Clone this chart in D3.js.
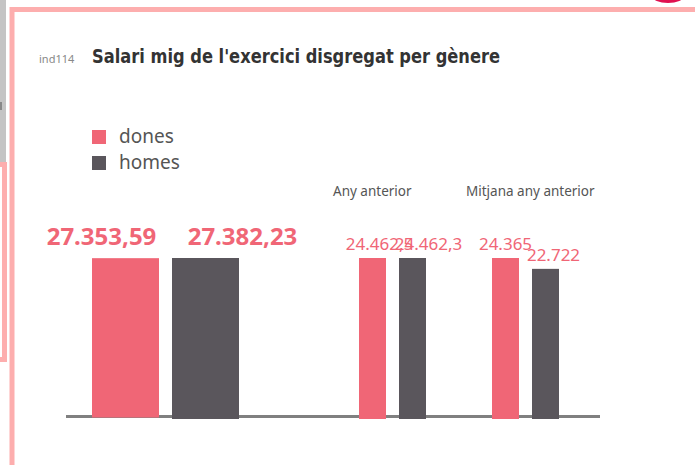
<!DOCTYPE html>
<html>
<head>
<meta charset="utf-8">
<script src="https://cdn.jsdelivr.net/npm/d3@7"></script>
<style>
	html, body { margin: 0; padding: 0; background: #fff; }
	svg { display: block; }
</style>
</head>
<body>
<div id="chart"></div>
<script>
/* Salari mig per gènere - ind114 */

var groups = ["actual", "Any anterior", "Mitjana any anterior"];
var series = ["dones", "homes"];
var dones = [27353.59, 24462.5, 24365];
var homes = [27382.23, 24462.3, 22722];

var width = 695,
	height = 465;

var pink = "#f06676",
	dark = "#5a565c",
	frame = "#fdaeae";

var locale = d3.formatLocale({ decimal: ",", thousands: ".", grouping: [3], currency: ["", "€"] });
var fmt = locale.format(",.2~f");

var svg = d3.select("#chart").append("svg")
	.attr("width", width)
	.attr("height", height);

/* page decorations round the widget */
svg.append("rect").attr("x", 0).attr("y", 0).attr("width", 6).attr("height", 162).style("fill", "#c4c4c4");
svg.append("rect").attr("x", 0).attr("y", 102).attr("width", 2).attr("height", 8).style("fill", "#888");
svg.append("path")
	.attr("d", "M0,164.5 H4.5 V359.5 H0")
	.style("fill", "none").style("stroke", frame).style("stroke-width", 5);
svg.append("path")
	.attr("d", "M12,465 V9.5 H695")
	.style("fill", "none").style("stroke", frame).style("stroke-width", 5);
svg.append("ellipse").attr("cx", 668).attr("cy", -4).attr("rx", 16).attr("ry", 7).style("fill", "#e0104f");

/* title */
svg.append("text")
	.attr("x", 39).attr("y", 63)
	.style("font-family", "'Noto Sans', sans-serif")
	.style("font-size", "11px")
	.style("fill", "#888")
	.text("ind114");
svg.append("text")
	.attr("x", 92).attr("y", 63)
	.attr("textLength", 408)
	.attr("lengthAdjust", "spacingAndGlyphs")
	.style("font-family", "'DejaVu Sans Condensed', 'DejaVu Sans', sans-serif")
	.style("font-weight", "bold")
	.style("font-size", "20px")
	.style("fill", "#333")
	.text("Salari mig de l'exercici disgregat per gènere");

/* legend */
var legend = svg.append("g").attr("class", "legend");
var li = legend.selectAll("g").data(series).enter().append("g")
	.attr("transform", function(d, i) { return "translate(92," + (130 + i * 26) + ")"; });
li.append("rect")
	.attr("width", 14).attr("height", 14)
	.style("fill", function(d, i) { return i == 0 ? pink : dark; });
li.append("text")
	.attr("x", 27).attr("y", 13)
	.style("font-family", "'Noto Sans', sans-serif")
	.style("font-size", "19px")
	.style("fill", "#555")
	.text(function(d) { return d; });

/* layout of the three groups: x0, bar width, gap, label offsets */
var layout = [
	{ x0: 92, bw: 67, gap: 13, big: true, dx: [-24, 37] },
	{ x0: 359, bw: 27, gap: 13, big: false, dx: [7, 16] },
	{ x0: 492, bw: 27, gap: 13, big: false, dx: [0, 8] }
];

var baseline = 419,
	maxH = 161;

var axisY = 416.5;
svg.append("line")
	.attr("x1", 66).attr("x2", 600)
	.attr("y1", axisY).attr("y2", axisY)
	.style("stroke", "#808080").style("stroke-width", 3);

var data = groups.map(function(g, i) {
	return { group: g, values: [dones[i], homes[i]], lay: layout[i] };
});

var gg = svg.selectAll("g.group").data(data).enter().append("g").attr("class", "group");

gg.each(function(d, gi) {
	var g = d3.select(this);
	var L = d.lay;
	var span = 2 * L.bw + L.gap;
	var x = d3.scaleBand().domain(series)
		.range([L.x0, L.x0 + span])
		.paddingInner(L.gap / (L.bw + L.gap))
		.paddingOuter(0);
	// each group is scaled to its own maximum
	var y = d3.scaleLinear().domain([0, d3.max(d.values)]).range([baseline, baseline - maxH]);

	if (gi > 0) {
		g.append("text")
			.attr("x", L.x0 - 26).attr("y", 196)
			.style("font-family", "'Noto Sans', sans-serif")
			.style("font-size", "13.5px")
			.style("fill", "#555")
			.text(d.group);
	}

	g.selectAll("rect").data(d.values).enter().append("rect")
		.attr("x", function(v, i) { return x(series[i]); })
		.attr("width", x.bandwidth())
		.attr("y", function(v) { return y(v); })
		.attr("height", function(v, i) { return (gi == 0 && i == 0 ? baseline - 1.5 : baseline) - y(v); })
		.style("fill", function(v, i) { return i == 0 ? pink : dark; });

	g.selectAll("text.val").data(d.values).enter().append("text")
		.attr("class", "val")
		.attr("text-anchor", "middle")
		.attr("x", function(v, i) { return x(series[i]) + x.bandwidth() / 2 + L.dx[i]; })
		.attr("y", function(v) { return y(v) - (L.big ? 13 : 8); })
		.style("font-family", "'Noto Sans', sans-serif")
		.style("font-weight", L.big ? "bold" : "normal")
		.style("font-size", L.big ? "24px" : "17px")
		.style("fill", pink)
		.text(function(v) { return fmt(v); });
});
</script>
</body>
</html>
